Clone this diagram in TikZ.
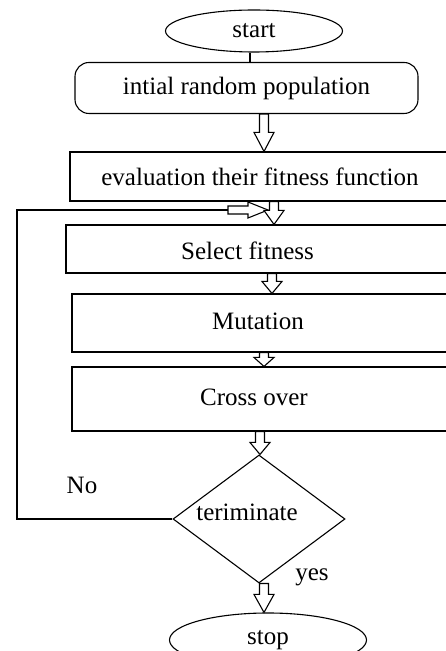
\documentclass[tikz,border=0pt]{standalone}
\usepackage{fontspec}
\setmainfont{Liberation Serif}
\usetikzlibrary{shapes.geometric}

\begin{document}
\begin{tikzpicture}[x=1pt, y=1pt, line width=1.1pt,
	every node/.style={font=\fontsize{25}{30}\selectfont},
	box/.style={draw, rectangle, inner sep=0pt},
	oval/.style={draw, ellipse, inner sep=0pt},
	hollowdown/.style={fill=white, to path={
		([xshift=-4.5pt]\tikztostart) -- ([xshift=-4.5pt,yshift=#1]\tikztotarget)
		-- ([xshift=-10pt,yshift=#1]\tikztotarget) -- (\tikztotarget)
		-- ([xshift=10pt,yshift=#1]\tikztotarget) -- ([xshift=4.5pt,yshift=#1]\tikztotarget)
		-- ([xshift=4.5pt]\tikztostart) -- cycle}},
	hollowdown/.default=14pt,
	hollowright/.style={fill=white, to path={
		([yshift=4pt]\tikztostart) -- ([yshift=4pt,xshift=-#1]\tikztotarget)
		-- ([yshift=8pt,xshift=-#1]\tikztotarget) -- (\tikztotarget)
		-- ([yshift=-8pt,xshift=-#1]\tikztotarget) -- ([yshift=-4pt,xshift=-#1]\tikztotarget)
		-- ([yshift=-4pt]\tikztostart) -- cycle}},
	hollowright/.default=20pt]
	\useasboundingbox (0,0) rectangle (446,651);
	\clip (0,0) rectangle (446,651);

	\node [oval, minimum width=177pt, minimum height=42pt] (start) at (254, 620) {start};
	\node [box, rounded corners=14pt, minimum width=343pt, minimum height=51pt] (init) at (246.5, 563) {intial random population};
	\node [box, minimum width=390pt, minimum height=49pt,
		label={[xshift=-5pt]center:evaluation their fitness function}] (eval) at (265, 474.5) {};
	\node [box, minimum width=394pt, minimum height=48pt,
		label={[xshift=-15.5pt, yshift=-2pt]center:Select fitness}] (select) at (263, 402) {};
	\node [box, minimum width=388pt, minimum height=58pt,
		label={[xshift=-8pt, yshift=2pt]center:Mutation}] (mut) at (266, 328) {};
	\node [box, minimum width=388pt, minimum height=64pt,
		label={[xshift=-12pt, yshift=2pt]center:Cross over}] (cross) at (266, 252) {};
	\node [draw, diamond, inner sep=0pt, minimum width=172pt, minimum height=128pt,
		label={[xshift=-12pt, yshift=7pt]center:teriminate}] (term) at (259, 132) {};
	\node [oval, minimum width=197pt, minimum height=54pt] (stop) at (268, 11) {stop};
	\node (no) at (82, 166) {No};
	\node (yes) at (312, 74) {yes};

	\coordinate (corner) at (17, 441);
	\coordinate (loopstart) at (228, 441);
	\coordinate (loopend) at (268, 441);

	\draw [-] ([xshift=-4pt]start.south) to ([xshift=3.5pt]init.north);
	\draw [hollowdown=19pt] ([xshift=17.5pt]init.south) to ([xshift=-1pt]eval.north);
	\draw [-] (term.west) -| (corner) -- (loopstart);
	\draw [hollowright] (loopstart) to (loopend);
	\draw [hollowdown] ([xshift=9pt]eval.south) to ([xshift=11pt]select.north);
	\draw [hollowdown=12pt] ([xshift=9pt]select.south) to ([xshift=6pt]mut.north);
	\draw [hollowdown=9pt] ([xshift=-2pt]mut.south) to ([xshift=-2pt]cross.north);
	\draw [hollowdown=12pt] ([xshift=-6pt]cross.south) to ([xshift=1pt]term.north);
	\draw [hollowdown=18pt] ([xshift=5pt]term.south) to ([xshift=-4pt]stop.north);
\end{tikzpicture}
\end{document}
